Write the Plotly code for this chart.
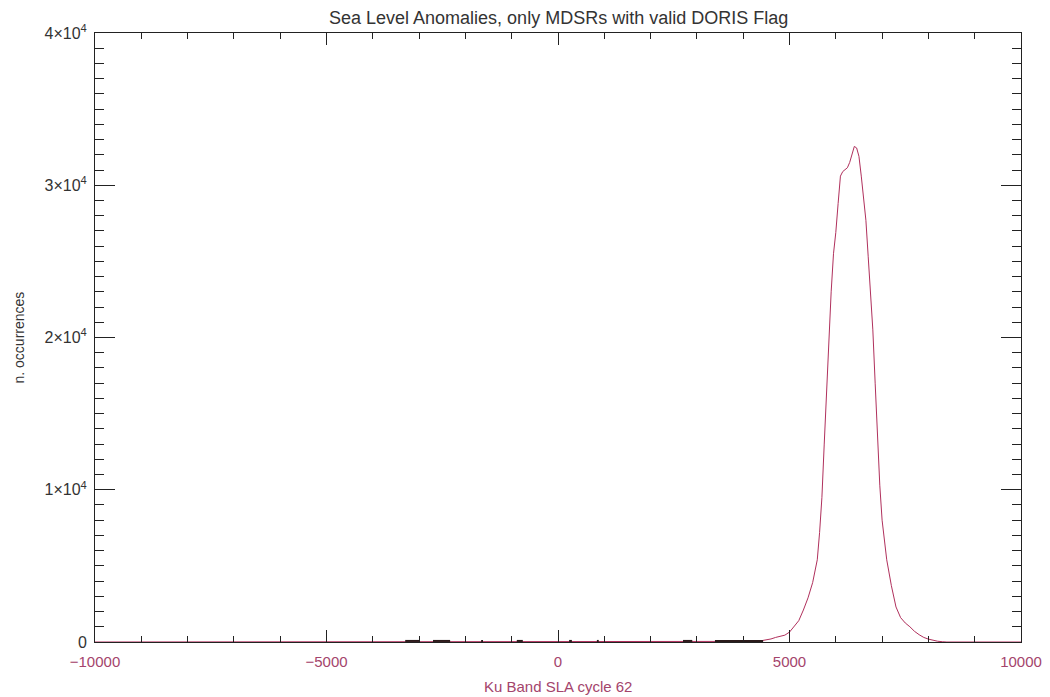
import plotly.graph_objects as go

# Main histogram (red curve): SLA bin centre vs. number of occurrences
sla_x = [-10000, 3800, 4000, 4200, 4400, 4500, 4600, 4700, 4800, 4900, 5000, 5100, 5200,
         5300, 5400, 5500, 5600, 5650, 5700, 5750, 5800, 5850, 5900, 5950, 6000,
         6050, 6100, 6150, 6200, 6250, 6300, 6350, 6400, 6450, 6500, 6550, 6600,
         6650, 6700, 6750, 6800, 6850, 6900, 6950, 7000, 7050, 7100, 7200, 7300,
         7400, 7500, 7600, 7700, 7800, 7900, 8000, 8100, 8200, 8300, 8400, 10000]
sla_count = [0, 0, 20, 40, 90, 130, 200, 300, 400, 450, 650, 1000, 1400,
             2100, 2900, 3900, 5400, 7200, 9500, 13000, 16500, 20000, 23000, 25500, 26900,
             28800, 30600, 30900, 31050, 31150, 31500, 32100, 32550, 32450, 31900, 30600, 29200,
             27700, 25300, 23000, 20500, 17000, 13500, 10300, 8000, 6500, 5400, 3700, 2300,
             1600, 1250, 1000, 700, 480, 300, 190, 110, 50, 20, 0, 0]

# Secondary (black) histogram: small counts close to the baseline
black_x = [-3300, -2980, None, -2700, -2330, None, -1660, -1620, None, -890, -760, None,
           240, 300, None, 840, 880, None, 2700, 2900, None, 3390, 4430]
black_y = [70, 70, None, 70, 70, None, 70, 70, None, 70, 70, None,
           70, 70, None, 70, 70, None, 70, 70, None, 70, 70]

x_tickvals = [-10000, -5000, 0, 5000, 10000]
x_ticktext = ["\u221210000", "\u22125000", "0", "5000", "10000"]
y_tickvals = [0, 10000, 20000, 30000, 40000]
y_ticktext = ["0", "1\u00d710<sup>4</sup>", "2\u00d710<sup>4</sup>",
              "3\u00d710<sup>4</sup>", "4\u00d710<sup>4</sup>"]

red = "#b0305c"
label_red = "#a4446c"
axis_col = "#222222"
font_family = "Liberation Sans, Arial, sans-serif"

fig = go.Figure()
fig.add_trace(go.Scatter(x=sla_x, y=sla_count, mode="lines",
                         line=dict(color=red, width=1), showlegend=False,
                         hoverinfo="skip"))
fig.add_trace(go.Scatter(x=black_x, y=black_y, mode="lines",
                         line=dict(color="#2a1a1a", width=2), showlegend=False,
                         connectgaps=False, hoverinfo="skip"))

fig.update_layout(
    width=1050, height=697,
    margin=dict(l=87, r=37, t=25, b=63, autoexpand=False),
    paper_bgcolor="white", plot_bgcolor="white",
    font=dict(family=font_family, color="#333333"),
    annotations=[
        dict(text="Sea Level Anomalies, only MDSRs with valid DORIS Flag",
             x=0.5, xref="paper", y=1.0, yref="paper", yshift=3,
             xanchor="center", yanchor="bottom", showarrow=False,
             font=dict(size=18, color="#333333", family=font_family)),
        dict(text="n. occurrences", textangle=-90,
             x=0, xref="paper", xshift=-77, y=0.5, yref="paper",
             xanchor="center", yanchor="middle", showarrow=False,
             font=dict(size=14, color="#333333", family=font_family)),
        dict(text="Ku Band SLA cycle 62",
             x=0.5, xref="paper", y=0, yref="paper", yshift=-44,
             xanchor="center", yanchor="middle", showarrow=False,
             font=dict(size=15, color=label_red, family=font_family)),
    ],
)

fig.update_xaxes(
    range=[-10000, 10000], automargin=False,
    tickvals=x_tickvals, ticktext=x_ticktext,
    tickfont=dict(size=15, color=label_red),
    ticks="inside", ticklen=12, tickcolor=axis_col, tickwidth=1,
    ticklabelstandoff=6,
    minor=dict(dtick=1000, tick0=0, ticks="inside", ticklen=6, tickcolor=axis_col),
    showline=True, linecolor=axis_col, linewidth=1, mirror="ticks",
    showgrid=False, zeroline=False,
)
fig.update_yaxes(
    range=[0, 40000], automargin=False,
    tickvals=y_tickvals, ticktext=y_ticktext,
    tickfont=dict(size=16, color="#333333"),
    ticks="inside", ticklen=20, tickcolor=axis_col, tickwidth=1,
    ticklabelstandoff=4,
    minor=dict(dtick=1000, tick0=0, ticks="inside", ticklen=9, tickcolor=axis_col),
    showline=True, linecolor=axis_col, linewidth=1, mirror="ticks",
    showgrid=False, zeroline=False,
)

fig.write_html("out.html")
